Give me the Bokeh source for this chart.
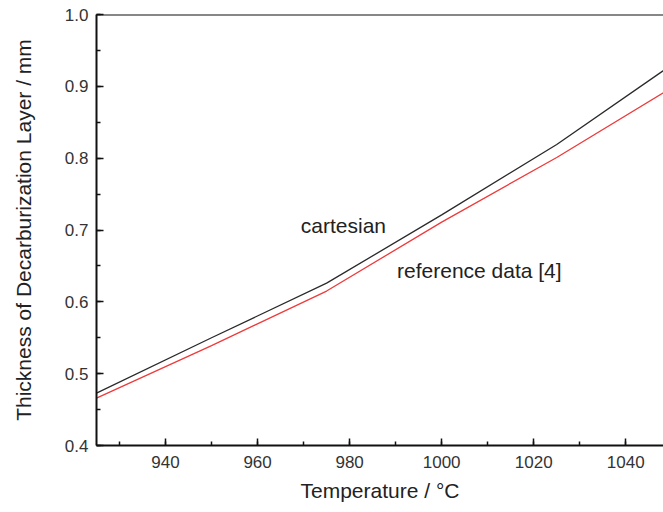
from bokeh.plotting import figure
from bokeh.models import Range1d, Span, NumeralTickFormatter, SingleIntervalTicker, Label
from bokeh.embed import file_html
from bokeh.resources import INLINE

# Data
temperature = [925, 950, 975, 1000, 1025, 1050]
cartesian = [0.473, 0.550, 0.626, 0.721, 0.819, 0.930]
reference_data = [0.466, 0.539, 0.615, 0.711, 0.801, 0.898]

FONT = "Liberation Sans"

p = figure(width=663, height=512, output_backend="svg", toolbar_location=None,
           x_range=Range1d(925, 1048.2), y_range=Range1d(0.4, 1.0),
           min_border_left=96, min_border_top=14, min_border_right=0, min_border_bottom=67)
p.outline_line_color = None
p.grid.visible = False
p.background_fill_color = "white"
p.border_fill_color = "white"

p.line(temperature, cartesian, line_color="#2a2a2a", line_width=1.3)
p.line(temperature, reference_data, line_color="#ee3a3a", line_width=1.3)

p.add_layout(Span(location=1.0, dimension="width", line_color="#111111", line_width=2))

p.xaxis.ticker = SingleIntervalTicker(interval=20, num_minor_ticks=2)
p.yaxis.ticker = SingleIntervalTicker(interval=0.1, num_minor_ticks=2)
p.yaxis.formatter = NumeralTickFormatter(format="0.0")

for ax in (p.xaxis[0], p.yaxis[0]):
    ax.axis_line_color = "#111111"
    ax.axis_line_width = 2
    ax.major_tick_line_color = "#111111"
    ax.minor_tick_line_color = "#111111"
    ax.major_tick_line_width = 1.5
    ax.minor_tick_line_width = 1.5
    ax.major_tick_in = 7
    ax.major_tick_out = 0
    ax.minor_tick_in = 4
    ax.minor_tick_out = 0
    ax.major_label_text_font = FONT
    ax.major_label_text_font_size = "17px"
    ax.major_label_text_color = "#333333"
    ax.axis_label_text_font = FONT
    ax.axis_label_text_font_size = "21px"
    ax.axis_label_text_font_style = "normal"
    ax.axis_label_text_color = "#222222"

p.xaxis.axis_label = "Temperature / °C"
p.yaxis.axis_label = "Thickness of Decarburization Layer / mm"
p.xaxis.major_label_standoff = 10
p.yaxis.major_label_standoff = 8
p.xaxis.axis_label_standoff = 8
p.yaxis.axis_label_standoff = 27

p.add_layout(Label(x=969.4, y=0.706, text="cartesian", text_font=FONT,
                   text_font_size="21px", text_color="#222222", text_baseline="middle"))
p.add_layout(Label(x=990.3, y=0.6435, text="reference data [4]", text_font=FONT,
                   text_font_size="21px", text_color="#222222", text_baseline="middle"))

open("out.html", "w").write(file_html(p, INLINE))
